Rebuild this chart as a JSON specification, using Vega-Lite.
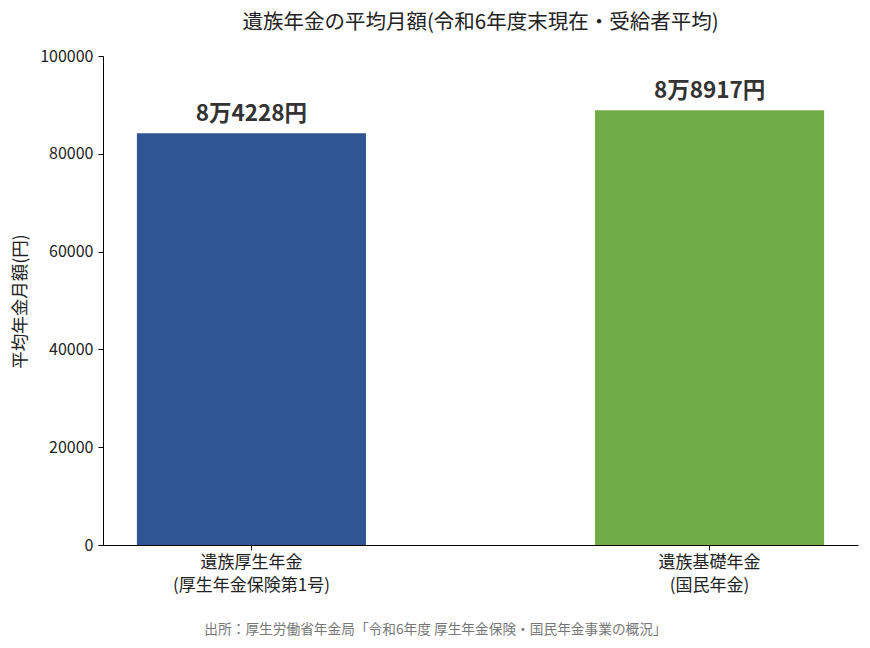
{
  "$schema": "https://vega.github.io/schema/vega-lite/v6.json",
  "width": 755,
  "height": 489,
  "autosize": {"type": "none"},
  "padding": {"left": 103, "top": 56, "right": 12, "bottom": 103},
  "background": "white",
  "title": {
    "text": "遺族年金の平均月額(令和6年度末現在・受給者平均)",
    "fontSize": 20.5,
    "fontWeight": "normal",
    "font": "Noto Sans CJK JP",
    "color": "#222222",
    "anchor": "middle",
    "offset": 15
  },
  "data": {
    "values": [
      {"category": "遺族厚生年金\n(厚生年金保険第1号)", "amount": 84228, "label": "8万4228円", "kind": "厚生"},
      {"category": "遺族基礎年金\n(国民年金)", "amount": 88917, "label": "8万8917円", "kind": "基礎"}
    ]
  },
  "encoding": {
    "x": {
      "field": "category",
      "type": "nominal",
      "sort": null,
      "scale": {"paddingInner": 0.5, "paddingOuter": 0.074},
      "axis": {
        "title": "出所：厚生労働省年金局「令和6年度 厚生年金保険・国民年金事業の概況」",
        "titleFontSize": 13.7,
        "titleFontWeight": "normal",
        "titleColor": "#777777",
        "titleX": 332,
        "titleY": 77,
        "titleAnchor": null,
        "titleAlign": "center",
        "titleBaseline": "top",
        "labelAngle": 0,
        "labelFontSize": 17,
        "labelColor": "#222222",
        "labelLineHeight": 23,
        "labelPadding": 4,
        "labelExpr": "split(datum.label, '\\n')"
      }
    },
    "y": {
      "field": "amount",
      "type": "quantitative",
      "scale": {"domain": [0, 100000], "nice": false},
      "axis": {
        "title": "平均年金月額(円)",
        "titleFontSize": 17.5,
        "titleFontWeight": "normal",
        "titleColor": "#222222",
        "titleX": -83,
        "titleY": 245,
        "titleAngle": -90,
        "titleAlign": "center",
        "titleBaseline": "middle",
        "values": [0, 20000, 40000, 60000, 80000, 100000],
        "format": "d",
        "labelFontSize": 16,
        "labelColor": "#222222",
        "labelPadding": 5,
        "grid": false
      }
    }
  },
  "layer": [
    {
      "mark": {"type": "bar"},
      "encoding": {
        "color": {
          "field": "kind",
          "type": "nominal",
          "scale": {"domain": ["厚生", "基礎"], "range": ["#2F5592", "#70AD47"]},
          "legend": null
        }
      }
    },
    {
      "mark": {
        "type": "text",
        "baseline": "bottom",
        "dy": -7,
        "fontSize": 22.5,
        "fontWeight": "bold",
        "color": "#333333"
      },
      "encoding": {"text": {"field": "label"}}
    }
  ],
  "config": {
    "font": "Noto Sans CJK JP",
    "view": {"stroke": null},
    "axis": {
      "domainColor": "#000000",
      "tickColor": "#000000",
      "tickSize": 5,
      "labelFont": "Noto Sans CJK JP",
      "titleFont": "Noto Sans CJK JP"
    }
  }
}
